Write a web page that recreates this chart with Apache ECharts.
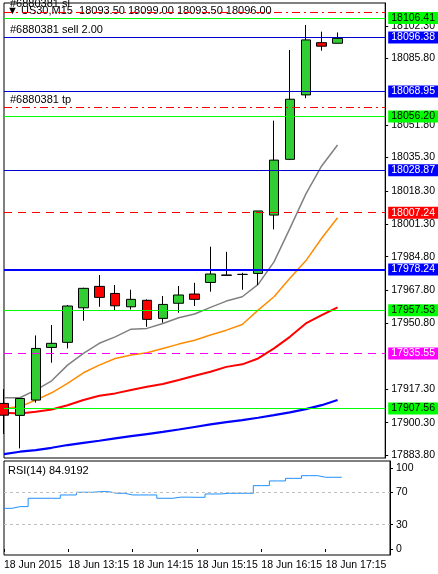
<!DOCTYPE html>
<html><head><meta charset="utf-8">
<script src="https://cdn.jsdelivr.net/npm/echarts@6/dist/echarts.min.js"></script>
<style>html,body{margin:0;padding:0;background:#fff}#c{width:438px;height:574px}</style>
</head><body><div id="c"></div>
<script>
const categories = ['12:15','12:30','12:45','13:00','13:15','13:30','13:45','14:00','14:15','14:30','14:45','15:00','15:15','15:30','15:45','16:00','16:15','16:30','16:45','17:00','17:15','17:30','17:45','18:00','18:15'];
const xLabels = ['18 Jun 2015','','','','18 Jun 13:15','','','','18 Jun 14:15','','','','18 Jun 15:15','','','','18 Jun 16:15','','','','18 Jun 17:15','','','',''];
// [open, close, low, high]
const ohlc = [
 [17910.1,17904.1,17894.5,17917.4],
 [17904.0,17912.6,17887.2,17912.8],
 [17911.8,17938.1,17910.5,17944.7],
 [17938.6,17940.7,17930.8,17950.0],
 [17941.2,17959.7,17938.1,17960.2],
 [17958.8,17968.7,17952.2,17969.0],
 [17969.7,17964.1,17959.3,17975.5],
 [17966.1,17959.8,17957.3,17970.4],
 [17959.3,17963.1,17957.9,17968.0],
 [17962.6,17952.9,17949.1,17963.1],
 [17953.4,17960.5,17951.2,17964.8],
 [17961.1,17965.3,17956.3,17969.9],
 [17965.8,17963.1,17959.7,17971.5],
 [17971.7,17976.0,17967.0,17989.9],
 [17975.3,17975.5,17975.3,17987.3],
 [17975.8,17975.8,17968.0,17976.6],
 [17976.3,18008.1,17970.4,18008.1],
 [18006.0,18034.0,17998.7,18054.1],
 [18034.4,18065.0,18034.0,18090.1],
 [18067.2,18095.2,18065.5,18102.8],
 [18093.8,18092.0,18089.7,18099.4],
 [18093.5,18096.0,18093.5,18099.0]
];
const maGray = [17913.0,17913.0,17916.9,17921.6,17929.6,17935.6,17940.7,17944.0,17947.9,17948.3,17950.8,17953.7,17955.6,17959.0,17962.2,17964.4,17970.7,17982.2,17999.2,18016.7,18031.0,18041.7];
const maOrange = [17907.6,17908.4,17911.8,17915.5,17920.3,17925.7,17929.6,17933.0,17934.7,17935.9,17938.1,17940.3,17942.3,17944.9,17947.4,17950.3,17957.6,17964.4,17973.8,17982.7,17994.2,18004.6];
const maRed = [17905.3,17905.0,17905.8,17907.0,17909.2,17911.8,17914.0,17915.2,17916.9,17918.6,17920.0,17922.0,17924.2,17926.2,17928.7,17930.0,17933.0,17938.1,17944.0,17950.8,17955.1,17959.0];
const maBlue = [17884.3,17885.5,17886.3,17887.5,17888.9,17890.0,17891.1,17892.3,17893.4,17894.5,17895.6,17896.8,17898.1,17899.4,17900.6,17901.6,17902.8,17904.1,17905.5,17907.2,17909.2,17911.8];
const rsi = [50.2,52.3,62.6,62.6,66.7,70.0,70.8,68.8,66.7,66.7,62.6,64.0,63.8,67.9,68.8,68.8,78.2,84.0,87.2,90.5,88.5,88.5];
const priceTicks = [18102.30,18085.80,18051.80,18035.30,18018.30,18001.30,17984.80,17967.80,17950.80,17917.30,17900.30,17883.80];
const rsiTicks = [0,30,70,100];
// [value, color, type, width, labelBg, labelText]
const levels = [
 [18106.41,'#00ff00','solid',1,'#00ff00','#000'],
 [18109.4,'#ff0000',[8,4,2,4],1,null,null],
 [18096.38,'#0000cc','solid',1,'#0000ff','#fff'],
 [18068.95,'#0000cc','solid',1,'#0000ff','#fff'],
 [18061.0,'#ff0000',[8,4,2,4],1,null,null],
 [18056.20,'#00ff00','solid',1,'#00ff00','#000'],
 [18028.87,'#0000cc','solid',1,'#0000ff','#fff'],
 [18007.24,'#ff0000',[8,6],1,'#ff0000','#fff'],
 [17978.24,'#0000ff','solid',2,'#0000ff','#fff'],
 [17957.53,'#00ff00','solid',1,'#00ff00','#000'],
 [17935.55,'#ff00ff',[8,6],1.2,'#ff00ff','#fff'],
 [17907.56,'#00ff00','solid',1,'#00ff00','#000']
];
const FONT = 'Liberation Sans';
const chart = echarts.init(document.getElementById('c'));
const ml = levels.map(l => ({
  yAxis: l[0],
  lineStyle: {color: l[1], type: l[2], width: l[3]},
  label: l[4] ? {show: true, position: 'end', distance: 3, formatter: l[0].toFixed(2), backgroundColor: l[4], color: l[5], padding: [1, 3, 0, 3], fontFamily: FONT, fontSize: 10.5} : {show: false}
}));
const mk = (d, c, w) => ({type: 'line', data: d, symbol: 'none', lineStyle: {color: c, width: w}, z: 3, silent: true});
chart.setOption({
  animation: false,
  textStyle: {fontFamily: FONT},
  grid: [
    {left: 4, right: 48, top: 3, height: 455, show: true, borderColor: '#000', borderWidth: 1},
    {left: 4, right: 48, top: 461, bottom: 19, show: true, borderColor: '#000', borderWidth: 1}
  ],
  xAxis: [
    {type: 'category', data: categories, boundaryGap: false, gridIndex: 0, axisLine: {show: false}, axisTick: {show: false}, axisLabel: {show: false}, splitLine: {show: false}},
    {type: 'category', data: categories, boundaryGap: false, gridIndex: 1, axisLine: {show: false},
     axisTick: {show: true, interval: 3, length: 3, lineStyle: {color: '#000'}},
     axisLabel: {interval: 3, formatter: (v, i) => xLabels[i], align: 'left', margin: 5, color: '#000', fontSize: 10.5, fontFamily: FONT}, splitLine: {show: false}}
  ],
  yAxis: [
    {type: 'value', gridIndex: 0, position: 'right', min: 17882.3, max: 18114.0, scale: true,
     axisLine: {show: true, lineStyle: {color: '#000'}},
     axisTick: {show: true, length: 3, customValues: priceTicks, lineStyle: {color: '#000'}},
     axisLabel: {customValues: priceTicks, formatter: v => v.toFixed(2), color: '#000', fontSize: 10.5, margin: 6, fontFamily: FONT},
     splitLine: {show: false}},
    {type: 'value', gridIndex: 1, position: 'right', min: -7.4, max: 108.6,
     axisLine: {show: true, lineStyle: {color: '#000'}},
     axisTick: {show: true, length: 3, customValues: rsiTicks, lineStyle: {color: '#000'}},
     axisLabel: {customValues: rsiTicks, color: '#000', fontSize: 10.5, margin: 6, fontFamily: FONT},
     splitLine: {show: false}}
  ],
  series: [
    {type: 'candlestick', data: ohlc, xAxisIndex: 0, yAxisIndex: 0, barWidth: 10, z: 4,
     itemStyle: {color: '#32cd32', color0: '#ff0000', borderColor: '#000', borderColor0: '#000', borderWidth: 1},
     markLine: {symbol: 'none', silent: true, animation: false, data: ml}},
    mk(maGray, '#808080', 1.5),
    mk(maOrange, '#ff8c00', 1.5),
    mk(maRed, '#ff0000', 2),
    mk(maBlue, '#0000ff', 2.2),
    {type: 'line', data: rsi, xAxisIndex: 1, yAxisIndex: 1, symbol: 'none', step: 'middle', lineStyle: {color: '#1e90ff', width: 1},
     markLine: {symbol: 'none', silent: true, label: {show: false}, lineStyle: {color: '#c0c0c0', type: [3, 3], width: 1}, data: [{yAxis: 70}, {yAxis: 30}]}}
  ],
  graphic: [
    {type: 'text', left: 10, top: -2, style: {text: '#6880381 sl', font: '11px Liberation Sans', fill: '#000'}},
    {type: 'text', left: 7, top: 5, style: {text: '▼ US30,M15  18093.50 18099.00 18093.50 18096.00', font: '11px Liberation Sans', fill: '#000'}},
    {type: 'text', left: 10, top: 24, style: {text: '#6880381 sell 2.00', font: '11px Liberation Sans', fill: '#000'}},
    {type: 'text', left: 10, top: 94, style: {text: '#6880381 tp', font: '11px Liberation Sans', fill: '#000'}},
    {type: 'text', left: 8, top: 465, style: {text: 'RSI(14) 84.9192', font: '11px Liberation Sans', fill: '#000'}}
  ]
});
</script></body></html>
